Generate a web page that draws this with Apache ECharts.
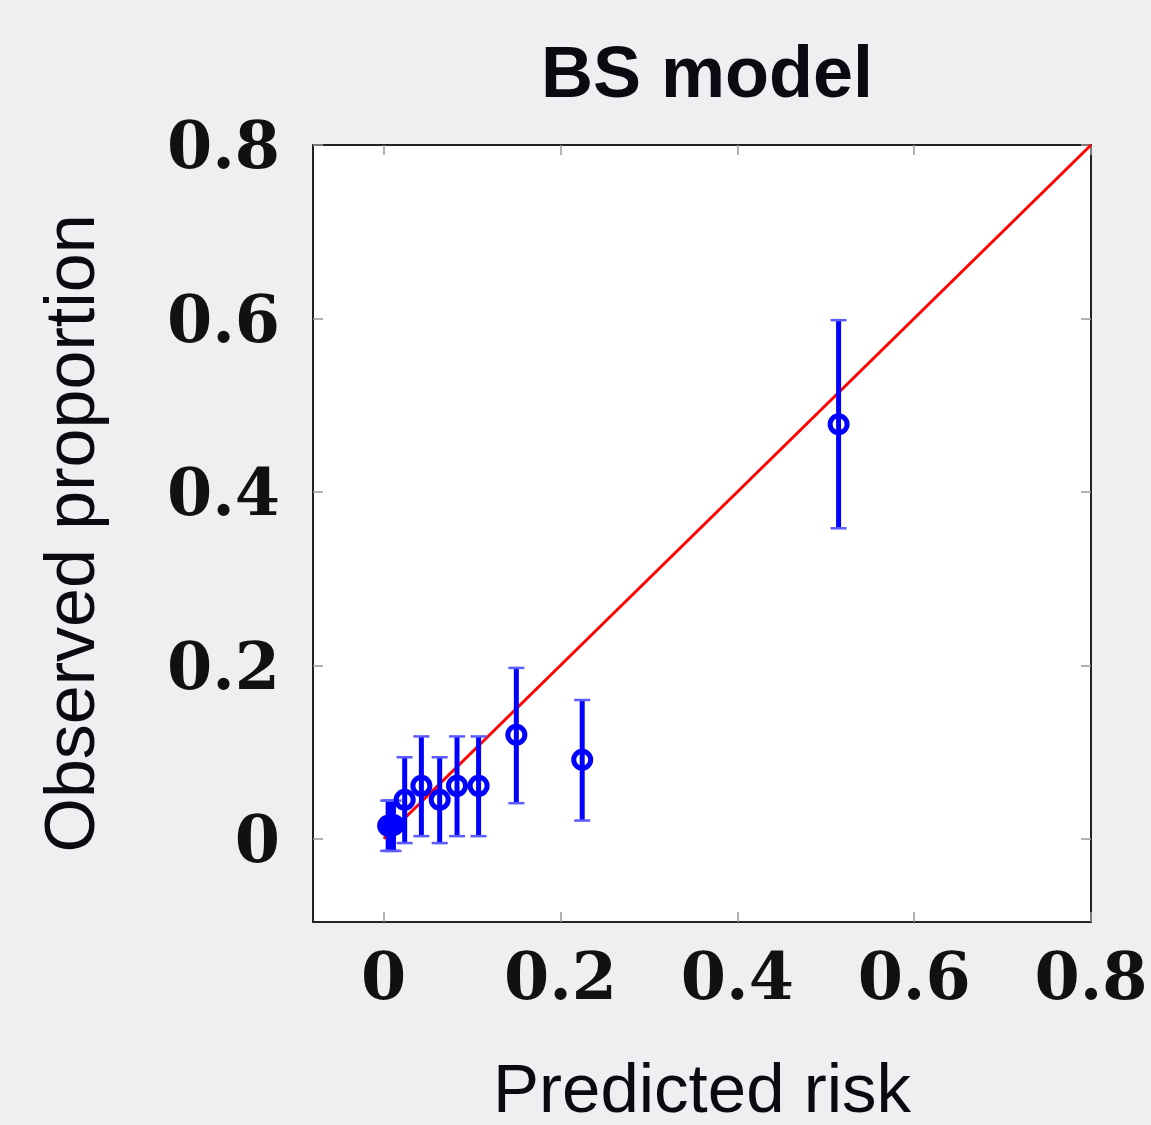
<!DOCTYPE html>
<html><head><meta charset="utf-8">
<script src="https://cdn.jsdelivr.net/npm/echarts@6/dist/echarts.min.js"></script>
<style>html,body{margin:0;padding:0;background:#eeeff1;}#c{width:1151px;height:1125px;}</style>
</head><body><div id="c"></div>
<script>
const titleText = 'BS model';
const xName = 'Predicted risk';
const yName = 'Observed proportion';
const tickValues = [0, 0.2, 0.4, 0.6, 0.8];
const predicted = [0.005, 0.008, 0.011, 0.0237, 0.0426, 0.0633, 0.0829, 0.1073, 0.150, 0.2245, 0.5145];
const observed  = [0.015, 0.015, 0.016, 0.045, 0.061, 0.045, 0.061, 0.061, 0.120, 0.091, 0.478];
const lower     = [-0.014, -0.014, -0.014, -0.005, 0.003, -0.005, 0.003, 0.003, 0.041, 0.021, 0.358];
const upper     = [0.044, 0.044, 0.044, 0.094, 0.118, 0.094, 0.118, 0.118, 0.197, 0.160, 0.598];
const refLine = [[0, 0], [0.8, 0.8]];

const chart = echarts.init(document.getElementById('c'));
const tickFont = {fontFamily: 'DejaVu Serif', fontWeight: 'bold', fontSize: 65, color: '#111'};
function axisCommon(extra) {
  return Object.assign({
    type: 'value',
    splitLine: {show: false},
    axisLine: {show: true, onZero: false, lineStyle: {color: '#222', width: 2}},
    axisTick: {show: true, inside: true, length: 10, customValues: tickValues, lineStyle: {color: '#999', width: 1.5}},
  }, extra);
}
const option = {
  backgroundColor: '#eeeff1',
  title: {text: titleText, left: 702, textAlign: 'center', top: 36,
    textStyle: {fontFamily: 'Liberation Sans', fontWeight: 'bold', fontSize: 72, color: '#0a0a12'}},
  grid: {left: 313, top: 145, width: 778, height: 777, backgroundColor: '#fff', show: true, borderWidth: 0,
    containLabel: false, outerBoundsMode: 'none'},
  xAxis: [
    axisCommon({min: -0.08, max: 0.8, position: 'bottom',
      axisLabel: Object.assign({customValues: tickValues, margin: 28, formatter: v => String(v)}, tickFont),
      name: xName, nameLocation: 'middle', nameGap: 136,
      nameTextStyle: {fontFamily: 'Liberation Sans', fontSize: 69, color: '#0a0a12'}}),
    axisCommon({min: -0.08, max: 0.8, position: 'top', axisLabel: {show: false}})
  ],
  yAxis: [
    axisCommon({min: -0.096, max: 0.8, position: 'left',
      axisLabel: Object.assign({customValues: tickValues, margin: 33, formatter: v => '{a|' + v + '}',
        rich: {a: Object.assign({padding: [13, 0, 0, 0]}, tickFont)}}, tickFont),
      name: yName, nameLocation: 'middle', nameGap: 203,
      nameTextStyle: {fontFamily: 'Liberation Sans', fontSize: 70, color: '#0a0a12'}}),
    axisCommon({min: -0.096, max: 0.8, position: 'right', axisLabel: {show: false}})
  ],
  series: [
    {type: 'line', data: refLine, symbol: 'none', lineStyle: {color: '#ff0000', width: 3}, z: 2, silent: true},
    {type: 'custom', z: 3, silent: true,
      data: predicted.map((x, i) => [x, lower[i], upper[i]]),
      renderItem: function (params, api) {
        const lo = api.coord([api.value(0), api.value(1)]);
        const hi = api.coord([api.value(0), api.value(2)]);
        const hw = 8;
        return {type: 'group', children: [
          {type: 'line', shape: {x1: lo[0], y1: lo[1], x2: hi[0], y2: hi[1]}, style: {stroke: '#0000ff', lineWidth: 5}},
          {type: 'line', shape: {x1: lo[0] - hw, y1: lo[1], x2: lo[0] + hw, y2: lo[1]}, style: {stroke: '#5a5aff', lineWidth: 2.5}},
          {type: 'line', shape: {x1: hi[0] - hw, y1: hi[1], x2: hi[0] + hw, y2: hi[1]}, style: {stroke: '#5a5aff', lineWidth: 2.5}}
        ]};
      }},
    {type: 'scatter', z: 4, silent: true,
      data: predicted.map((x, i) => [x, observed[i]]),
      symbol: 'circle', symbolSize: 17,
      itemStyle: {color: 'rgba(0,0,0,0)', borderColor: '#0000ff', borderWidth: 5, opacity: 1}}
  ],
  animation: false
};
chart.setOption(option);
</script></body></html>
